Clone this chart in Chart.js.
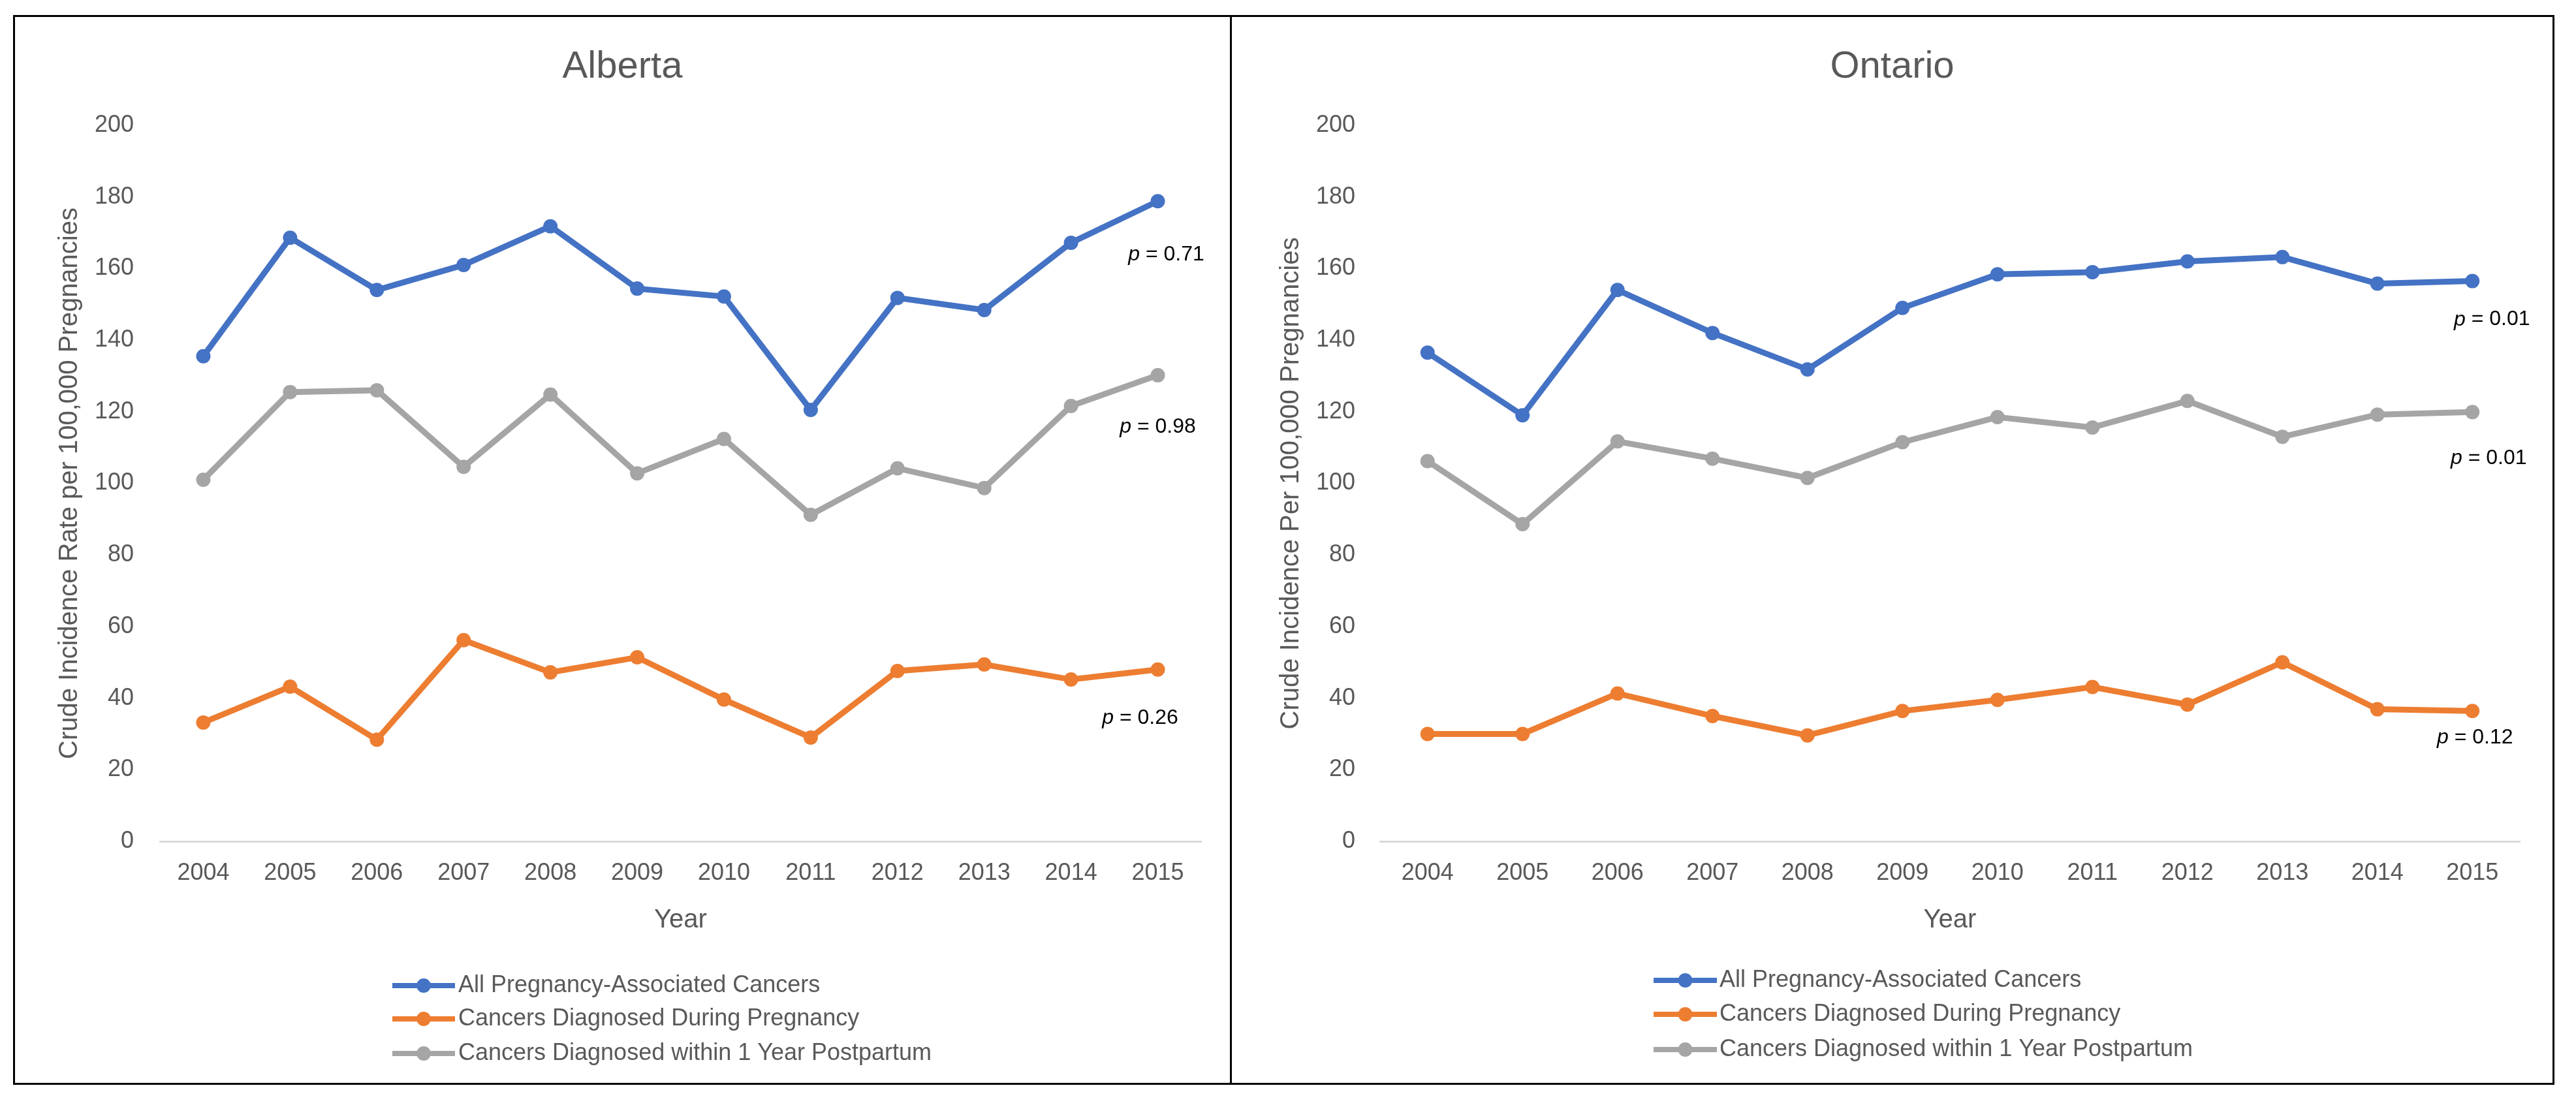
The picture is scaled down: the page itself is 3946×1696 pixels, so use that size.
<!DOCTYPE html>
<html>
<head>
<meta charset="utf-8">
<script src="https://cdn.jsdelivr.net/npm/chart.js@4.4.1/dist/chart.umd.min.js"></script>
<style>
    body { margin: 0; background: #fff; width: 3946px; height: 1696px; position: relative; overflow: hidden; }
    .panel { position: absolute; top: 23px; height: 1639px; box-sizing: border-box; border: 3px solid #000; }
    #leftPanel { left: 20px; width: 1864px; border-right: none; }
    #rightPanel { left: 1884px; width: 2029px; }
    canvas { display: block; }
</style>
</head>
<body>
<div class="panel" id="leftPanel"><canvas id="albertaChart" width="1861" height="1633"></canvas></div>
<div class="panel" id="rightPanel"><canvas id="ontarioChart" width="2023" height="1633"></canvas></div>
<script>
const years = ['2004', '2005', '2006', '2007', '2008', '2009', '2010', '2011', '2012', '2013', '2014', '2015'];
const seriesNames = ['All Pregnancy-Associated Cancers', 'Cancers Diagnosed During Pregnancy', 'Cancers Diagnosed within 1 Year Postpartum'];

const albertaAll = [135.5, 168.6, 154, 161, 171.8, 154.4, 152.2, 120.5, 151.8, 148.4, 167.2, 178.8];
const albertaDuring = [33.2, 43.2, 28.4, 56.2, 47.2, 51.4, 39.6, 29, 47.6, 49.4, 45.2, 48];
const albertaPostpartum = [101, 125.5, 126, 104.6, 124.8, 102.8, 112.4, 91.2, 104.2, 98.7, 121.6, 130.2];
const albertaP = ['0.71', '0.26', '0.98'];

const ontarioAll = [136.5, 119, 154, 142, 131.8, 149, 158.4, 159, 162, 163.2, 155.8, 156.5];
const ontarioDuring = [30, 30, 41.3, 35, 29.6, 36.4, 39.5, 43.1, 38.2, 50, 36.9, 36.4];
const ontarioPostpartum = [106.2, 88.6, 111.7, 106.9, 101.5, 111.5, 118.5, 115.6, 123, 113, 119.2, 119.9];
const ontarioP = ['0.01', '0.12', '0.01'];

const colors = ['#4472C4', '#ED7D31', '#A5A5A5'];
const FONT = "'Liberation Sans', Arial, sans-serif";
const TEXT_GRAY = '#595959';

// titles, legend and p values drawn on the canvas after the chart
const panelDecor = {
    id: 'panelDecor',
    afterDraw(chart, args, opts) {
        const ctx = chart.ctx;
        ctx.save();

        // chart title
        ctx.fillStyle = TEXT_GRAY;
        ctx.font = `58px ${FONT}`;
        ctx.textAlign = 'center';
        ctx.textBaseline = 'middle';
        ctx.fillText(opts.title, chart.width / 2, opts.titleY);

        // legend
        chart.data.datasets.forEach((ds, i) => {
            const y = opts.legendRows[i];
            ctx.strokeStyle = ds.borderColor;
            ctx.lineWidth = 8;
            ctx.beginPath();
            ctx.moveTo(opts.legendLine[0], y);
            ctx.lineTo(opts.legendLine[1], y);
            ctx.stroke();
            ctx.fillStyle = ds.borderColor;
            ctx.beginPath();
            ctx.arc((opts.legendLine[0] + opts.legendLine[1]) / 2, y, 11, 0, Math.PI * 2);
            ctx.fill();
            ctx.fillStyle = TEXT_GRAY;
            ctx.font = `36px ${FONT}`;
            ctx.textAlign = 'left';
            ctx.fillText(ds.label, opts.legendText, y);
        });

        // p values next to the last point of each series
        chart.data.datasets.forEach((ds, i) => {
            const meta = chart.getDatasetMeta(i);
            const last = meta.data[meta.data.length - 1];
            const cx = last.x + opts.pOffsets[i][0];
            const cy = last.y + opts.pOffsets[i][1];
            const rest = ' = ' + opts.pValues[i];
            ctx.font = `italic 32px ${FONT}`;
            const wp = ctx.measureText('p').width;
            ctx.font = `32px ${FONT}`;
            const wr = ctx.measureText(rest).width;
            const x0 = cx - (wp + wr) / 2;
            ctx.fillStyle = '#000';
            ctx.textAlign = 'left';
            ctx.font = `italic 32px ${FONT}`;
            ctx.fillText('p', x0, cy);
            ctx.font = `32px ${FONT}`;
            ctx.fillText(rest, x0 + wp, cy);
        });

        ctx.restore();
    }
};

function makeDataset(label, data, color) {
    return {
        label: label,
        data: data,
        borderColor: color,
        backgroundColor: color,
        pointBackgroundColor: color,
        pointBorderColor: color,
        borderWidth: 9,
        pointRadius: 11,
        pointBorderWidth: 0,
        tension: 0,
        fill: false
    };
}

function buildChart(canvasId, cfg) {
    return new Chart(document.getElementById(canvasId), {
        type: 'line',
        data: {
            labels: years,
            datasets: [
                makeDataset(seriesNames[0], cfg.all, colors[0]),
                makeDataset(seriesNames[1], cfg.during, colors[1]),
                makeDataset(seriesNames[2], cfg.postpartum, colors[2])
            ]
        },
        options: {
            responsive: false,
            animation: false,
            devicePixelRatio: 1,
            layout: {
                padding: { top: 166, right: cfg.padRight, bottom: 220, left: 0 }
            },
            scales: {
                x: {
                    offset: true,
                    grid: { display: false, drawTicks: false },
                    border: { display: true, color: '#D9D9D9', width: 3 },
                    ticks: {
                        color: TEXT_GRAY,
                        font: { family: FONT, size: 36 },
                        padding: 27,
                        maxRotation: 0,
                        autoSkip: false
                    },
                    title: {
                        display: true,
                        text: 'Year',
                        color: TEXT_GRAY,
                        font: { family: FONT, size: 40 },
                        padding: { top: 0, bottom: 5 }
                    },
                    afterFit: scale => { scale.height = 150; }
                },
                y: {
                    min: 0,
                    max: 200,
                    grid: { display: false, drawTicks: false },
                    border: { display: false },
                    ticks: {
                        stepSize: 20,
                        color: TEXT_GRAY,
                        font: { family: FONT, size: 36 },
                        padding: cfg.tickPad
                    },
                    title: {
                        display: true,
                        text: cfg.yTitle,
                        color: TEXT_GRAY,
                        font: { family: FONT, size: 40 },
                        padding: { top: cfg.yTitlePad, bottom: 0 }
                    },
                    afterFit: scale => { scale.width = cfg.yWidth; }
                }
            },
            plugins: {
                legend: { display: false },
                tooltip: { enabled: false },
                panelDecor: {
                    title: cfg.title,
                    titleY: 77,
                    legendLine: cfg.legendLine,
                    legendText: cfg.legendText,
                    legendRows: cfg.legendRows,
                    pValues: cfg.pValues,
                    pOffsets: cfg.pOffsets
                }
            }
        },
        plugins: [panelDecor]
    });
}

buildChart('albertaChart', {
    title: 'Alberta',
    yTitle: 'Crude Incidence Rate per 100,000 Pregnancies',
    all: albertaAll,
    during: albertaDuring,
    postpartum: albertaPostpartum,
    pValues: albertaP,
    padRight: 44,
    yWidth: 222,
    tickPad: 40,
    yTitlePad: 60,
    legendLine: [578, 674],
    legendText: 679,
    legendRows: [1484, 1535, 1588],
    pOffsets: [[13, 82], [-27, 74], [0, 79]]
});

buildChart('ontarioChart', {
    title: 'Ontario',
    yTitle: 'Crude Incidence Per 100,000 Pregnancies',
    all: ontarioAll,
    during: ontarioDuring,
    postpartum: ontarioPostpartum,
    pValues: ontarioP,
    padRight: 50,
    yWidth: 227,
    tickPad: 38,
    yTitlePad: 67,
    legendLine: [646, 743],
    legendText: 747,
    legendRows: [1476, 1528, 1582],
    pOffsets: [[30, 59], [4, 41], [25, 71]]
});
</script>
</body>
</html>
